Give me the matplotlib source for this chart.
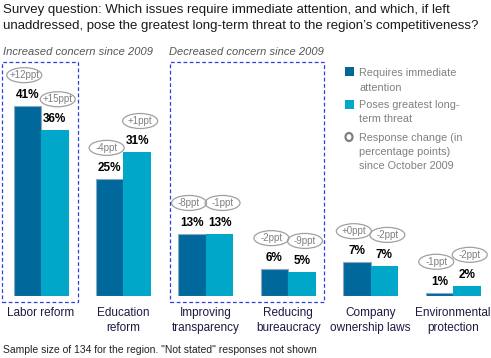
import matplotlib
matplotlib.use("Agg")
import matplotlib.pyplot as plt
from matplotlib.patches import Rectangle, Ellipse

# data
categories = ["Labor reform", "Education\nreform", "Improving\ntransparency",
              "Reducing\nbureaucracy", "Company\nownership laws", "Environmental\nprotection"]
immediate = [41.0, 25.3, 13.4, 5.8, 7.3, 0.7]
longterm = [35.8, 31.1, 13.4, 5.2, 6.5, 2.2]
immediate_labels = ["41%", "25%", "13%", "6%", "7%", "1%"]
longterm_labels = ["36%", "31%", "13%", "5%", "7%", "2%"]
immediate_change = ["+12ppt", "-4ppt", "-8ppt", "-2ppt", "+0ppt", "-1ppt"]
longterm_change = ["+15ppt", "+1ppt", "-1ppt", "-9ppt", "-2ppt", "-2ppt"]

W, H = 491, 358
dark = "#00689B"
light = "#00A7C8"
grey = "#808080"
font = "Liberation Sans"
plt.rcParams["font.family"] = [font, "DejaVu Sans"]


def fx(x):
    return x / W


def fy(y):
    return 1 - y / H


fig = plt.figure(figsize=(W / 100, H / 100), dpi=100)

# axes: baseline at y=296px, 4.63 px per percent, group spacing 82.4 px
px_per_pct = 4.63
ax = fig.add_axes([0, fy(296), 1, (296 - 40) / H])
ax.set_xlim(-41 / 82.4, (W - 41) / 82.4)
ax.set_ylim(0, 256 / px_per_pct)
ax.axis("off")

bw = 27.5 / 82.4
x = list(range(len(categories)))
ax.bar([i - bw / 2 for i in x], immediate, width=bw, color=dark,
       edgecolor="#8FA8C0", linewidth=0.8, zorder=2)
ax.bar([i + bw / 2 for i in x], longterm, width=bw, color=light,
       linewidth=0, zorder=2)

u = 1 / px_per_pct  # one pixel in y data units
px = 1 / 82.4       # one pixel in x data units
ew, eh = 35 * px, 15 * u
for i in x:
    for val, lab, chg, sx, dx in [(immediate[i], immediate_labels[i], immediate_change[i], -bw / 2, -3),
                                  (longterm[i], longterm_labels[i], longterm_change[i], bw / 2, 3)]:
        cx = i + sx
        ax.text(cx, val + 11 * u, lab, ha="center", va="center", fontsize=8.5,
                fontweight="bold", color="black")
        ex = cx + dx * px
        ey = val + 31 * u
        ax.add_patch(Ellipse((ex, ey), ew, eh, facecolor="none",
                             edgecolor="#A0A0A0", linewidth=0.9, zorder=3))
        ax.text(ex, ey, chg, ha="center", va="center", fontsize=7, color=grey)

# category labels
for i, c in enumerate(categories):
    ax.text(i, -11 * u, c, ha="center", va="top", fontsize=8.5,
            color="#1E1A40", linespacing=1.35)

# dashed boxes
for (x0, x1) in [(2, 78), (170, 324)]:
    fig.add_artist(Rectangle((fx(x0), fy(302)), fx(x1 - x0), (302 - 62) / H,
                             fill=False, edgecolor="#2E3FE0", linewidth=0.9,
                             linestyle=(0, (3, 2))))

# title and notes
fig.text(fx(3), fy(10), "Survey question: Which issues require immediate attention, and which, if left",
         fontsize=9.5, color="#1A1A1A", va="center")
fig.text(fx(3), fy(26), "unaddressed, pose the greatest long-term threat to the region\u2019s competitiveness?",
         fontsize=9.5, color="#1A1A1A", va="center")
fig.text(fx(3), fy(52), "Increased concern since 2009", fontsize=8, style="italic",
         color="#555555", va="center")
fig.text(fx(169), fy(52), "Decreased concern since 2009", fontsize=8, style="italic",
         color="#555555", va="center")
fig.text(fx(3), fy(350), 'Sample size of 134 for the region. "Not stated" responses not shown',
         fontsize=7.5, color="#222222", va="center")

# legend
fig.add_artist(Rectangle((fx(345), fy(76)), fx(9), 9 / H, color=dark, linewidth=0))
fig.add_artist(Rectangle((fx(345), fy(109)), fx(9), 9 / H, color=light, linewidth=0))
fig.add_artist(Ellipse((fx(349), fy(137)), fx(7), 8 / H, facecolor="none",
                       edgecolor=grey, linewidth=1.6))
for y, t in [(73, "Requires immediate"), (88, "attention"),
             (105, "Poses greatest long-"), (119, "term threat"),
             (138, "Response change (in"), (152, "percentage points)"),
             (166, "since October 2009")]:
    fig.text(fx(359), fy(y), t, fontsize=7.8, color=grey, va="center")

fig.savefig("out.png", dpi=100)
